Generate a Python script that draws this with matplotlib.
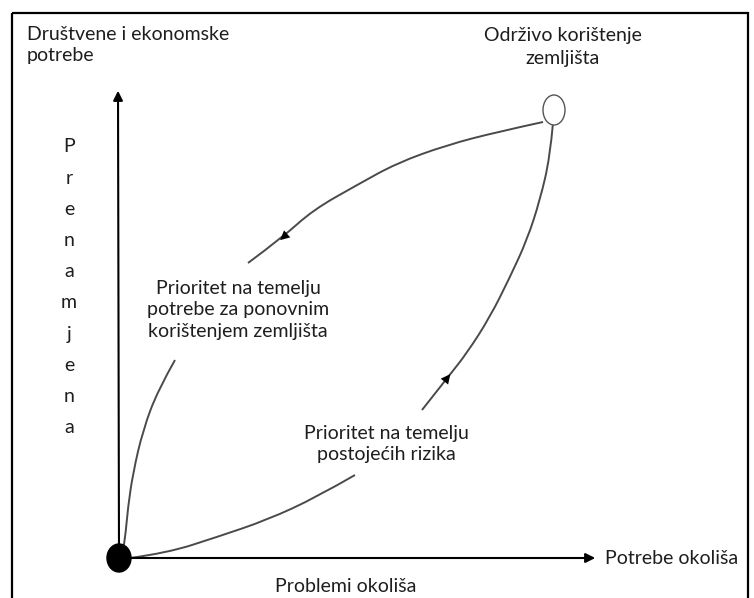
import matplotlib
matplotlib.use("Agg")
import matplotlib.pyplot as plt
from matplotlib.patches import Ellipse, Rectangle, PathPatch
from matplotlib.path import Path

plt.rcParams['font.family'] = ['Lato', 'DejaVu Sans']

# curve points (pixel coords, y down)
curve_reuse_top_x = [543, 497, 447, 397, 357, 313, 283, 248]
curve_reuse_top_y = [122, 132, 145, 163, 185, 210, 237, 263]
curve_reuse_low_x = [175, 158, 143, 133, 128, 125, 123]
curve_reuse_low_y = [360, 390, 430, 473, 507, 540, 550]

curve_risk_low_x = [130, 167, 217, 267, 317, 355]
curve_risk_low_y = [558, 553, 537, 520, 497, 475]
curve_risk_top_x = [422, 448, 467, 490, 510, 527, 540, 550, 553]
curve_risk_top_y = [410, 377, 353, 317, 277, 240, 200, 157, 123]

origin = (119, 558)
y_axis_tip = (118, 88)
x_axis_tip = (598, 558)
goal = (554, 110)

vertical_word = "Prenamjena"


def smooth_curve(ax, xs, ys, **kw):
    # quadratic pieces through midpoints, read points used as control points
    pts = list(zip(xs, ys))
    verts = [pts[0]]
    codes = [Path.MOVETO]
    for i in range(1, len(pts) - 1):
        mid = ((pts[i][0] + pts[i + 1][0]) / 2, (pts[i][1] + pts[i + 1][1]) / 2)
        if i == len(pts) - 2:
            mid = pts[-1]
        verts += [pts[i], mid]
        codes += [Path.CURVE3, Path.CURVE3]
    ax.add_patch(PathPatch(Path(verts, codes), fill=False, **kw))


fig = plt.figure(figsize=(7.54, 5.98), dpi=100)
ax = fig.add_axes([0, 0, 1, 1])
ax.set_xlim(0, 754)
ax.set_ylim(598, 0)
ax.axis('off')

# frame
ax.add_patch(Rectangle((12, 13), 736, 600, fill=False, lw=1.6, ec='black'))

# axes arrows
ax.annotate("", xy=y_axis_tip, xytext=origin,
            arrowprops=dict(arrowstyle='-|>', lw=1.5, color='black', mutation_scale=14))
ax.annotate("", xy=x_axis_tip, xytext=origin,
            arrowprops=dict(arrowstyle='-|>', lw=1.5, color='black', mutation_scale=14))

# curves
cc = '#4a4a4a'
smooth_curve(ax, curve_reuse_top_x, curve_reuse_top_y, ec=cc, lw=1.4)
smooth_curve(ax, curve_reuse_low_x, curve_reuse_low_y, ec=cc, lw=1.4)
smooth_curve(ax, curve_risk_low_x, curve_risk_low_y, ec=cc, lw=1.4)
smooth_curve(ax, curve_risk_top_x, curve_risk_top_y, ec=cc, lw=1.4)

# direction arrowheads on curves
ax.annotate("", xy=(278, 242), xytext=(296, 226),
            arrowprops=dict(arrowstyle='-|>', lw=0, color='black', mutation_scale=17))
ax.annotate("", xy=(452, 372), xytext=(437, 391),
            arrowprops=dict(arrowstyle='-|>', lw=0, color='black', mutation_scale=17))

# end points
ax.add_patch(Ellipse(origin, 24, 28, fc='black', ec='black', zorder=5))
ax.add_patch(Ellipse(goal, 22, 30, fc='white', ec='#555555', lw=1.0, zorder=5))

fs = 14
tc = '#1e1e1e'
ax.text(27, 45, "Društvene i ekonomske\npotrebe", fontsize=fs, ha='left', va='center',
        linespacing=1.3, color=tc)
ax.text(563, 47, "Održivo korištenje\nzemljišta", fontsize=fs, ha='center', va='center',
        linespacing=1.4, color=tc)
ax.text(238, 310, "Prioritet na temelju\npotrebe za ponovnim\nkorištenjem zemljišta",
        fontsize=fs, ha='center', va='center', linespacing=1.3, color=tc)
ax.text(386, 444, "Prioritet na temelju\npostojećih rizika", fontsize=fs,
        ha='center', va='center', linespacing=1.3, color=tc)
ax.text(605, 558, "Potrebe okoliša", fontsize=fs, ha='left', va='center', color=tc)
ax.text(346, 587, "Problemi okoliša", fontsize=fs, ha='center', va='center', color=tc)

for i, ch in enumerate(vertical_word):
    ax.text(69, 147 + i * 31.2, ch, fontsize=fs, ha='center', va='center', color=tc)

fig.savefig("out.png", dpi=100)
